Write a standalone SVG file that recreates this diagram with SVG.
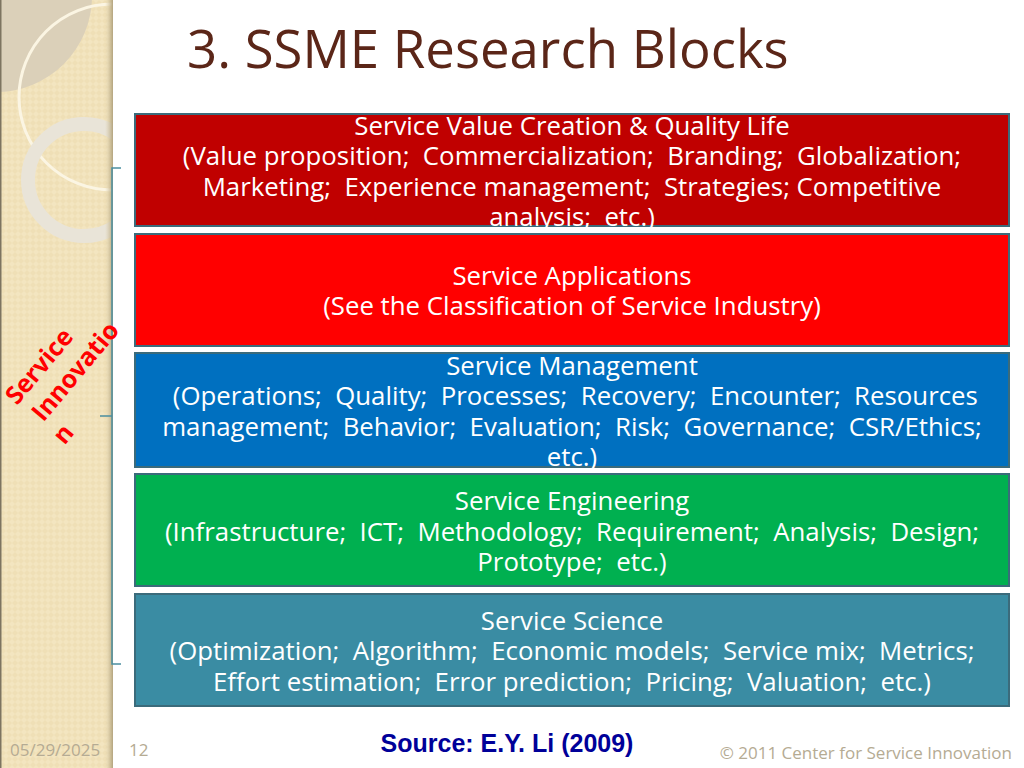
<svg xmlns="http://www.w3.org/2000/svg" width="1024" height="768" viewBox="0 0 1024 768">
<defs>
<style>
.bx{stroke:#3b6b7b;stroke-width:2}
.bt{font-family:"Open Sans","Noto Sans",sans-serif;font-size:25.8px;fill:#ffffff;text-anchor:middle;white-space:pre}
.ft{font-family:"Open Sans","Noto Sans",sans-serif;font-size:17px;fill:#b5ab93}
.si{font-family:"Open Sans","Noto Sans",sans-serif;font-size:25px;font-weight:bold;fill:#ff0000}
</style>
<pattern id="tex" width="6" height="6" patternUnits="userSpaceOnUse">
<rect width="6" height="6" fill="#f3e5c0"/>
<path d="M0,3 L3,0 L6,3 L3,6 Z" fill="#efdfb6"/>
</pattern>
<linearGradient id="edge" x1="0" x2="1" y1="0" y2="0">
<stop offset="0" stop-color="#d8c9a3" stop-opacity="0"/>
<stop offset="1" stop-color="#b3a47f"/>
</linearGradient>
<clipPath id="side"><rect x="0" y="0" width="113" height="768"/></clipPath>
</defs>
<rect width="1024" height="768" fill="#ffffff"/>
<g id="sidebar" clip-path="url(#side)">
<rect x="0" y="0" width="113" height="768" fill="url(#tex)"/>
<circle cx="-4" cy="-4" r="96" fill="#dbd0b9"/>
<circle cx="112" cy="97" r="93" fill="none" stroke="#fbf5e3" stroke-width="3"/>
<circle cx="84" cy="180" r="56" fill="none" stroke="#e9e4d8" stroke-width="14"/>
<rect x="105" y="0" width="8" height="768" fill="url(#edge)"/>
<rect x="0" y="0" width="1.5" height="768" fill="#7d7460"/>
</g>
<text x="187" y="68" style="font-family:'Open Sans','Noto Sans',sans-serif;font-size:52.7px;fill:#5b2618">3. SSME Research Blocks</text>
<g id="connectors">
<path d="M121,168 H112 V664 H121 M112,416 H100" fill="none" stroke="#4b8ea0" stroke-width="1.5"/>
</g>
<g id="innovation" transform="translate(17,406) rotate(-50)">
<text class="si" x="0" y="0">Service</text>
<text class="si" x="4" y="31">Innovatio</text>
<text class="si" x="0" y="62">n</text>
</g>
<g id="value">
<rect class="bx" x="135" y="114" width="874" height="112" fill="#c00000"/>
<text class="bt" x="572" y="135">Service Value Creation &amp; Quality Life</text>
<text class="bt" x="572" y="165">(Value proposition;  Commercialization;  Branding;  Globalization;</text>
<text class="bt" x="572" y="196">Marketing;  Experience management;  Strategies; Competitive</text>
<text class="bt" x="572" y="226">analysis;  etc.)</text>
</g>
<g id="applications">
<rect class="bx" x="135" y="234" width="874" height="112" fill="#ff0000"/>
<text class="bt" x="572" y="285">Service Applications</text>
<text class="bt" x="572" y="315">(See the Classification of Service Industry)</text>
</g>
<g id="management">
<rect class="bx" x="135" y="353" width="874" height="114" fill="#0070c0"/>
<text class="bt" x="572" y="375">Service Management</text>
<text class="bt" x="572" y="405"> (Operations;  Quality;  Processes;  Recovery;  Encounter;  Resources</text>
<text class="bt" x="572" y="436">management;  Behavior;  Evaluation;  Risk;  Governance;  CSR/Ethics;</text>
<text class="bt" x="572" y="466">etc.)</text>
</g>
<g id="engineering">
<rect class="bx" x="135" y="474" width="874" height="112" fill="#00b050"/>
<text class="bt" x="572" y="510">Service Engineering</text>
<text class="bt" x="572" y="541">(Infrastructure;  ICT;  Methodology;  Requirement;  Analysis;  Design;</text>
<text class="bt" x="572" y="571">Prototype;  etc.)</text>
</g>
<g id="science">
<rect class="bx" x="135" y="594" width="874" height="112" fill="#3a8ca3"/>
<text class="bt" x="572" y="630">Service Science</text>
<text class="bt" x="572" y="660">(Optimization;  Algorithm;  Economic models;  Service mix;  Metrics;</text>
<text class="bt" x="572" y="691">Effort estimation;  Error prediction;  Pricing;  Valuation;  etc.)</text>
</g>
<text x="507" y="752" style="font-family:'Liberation Sans',Arial,sans-serif;font-size:25px;font-weight:bold;fill:#000099;text-anchor:middle">Source: E.Y. Li (2009)</text>
<text class="ft" x="10" y="756">05/29/2025</text>
<text class="ft" x="129" y="756">12</text>
<text class="ft" x="1012" y="759" style="text-anchor:end">© 2011 Center for Service Innovation</text>
</svg>
